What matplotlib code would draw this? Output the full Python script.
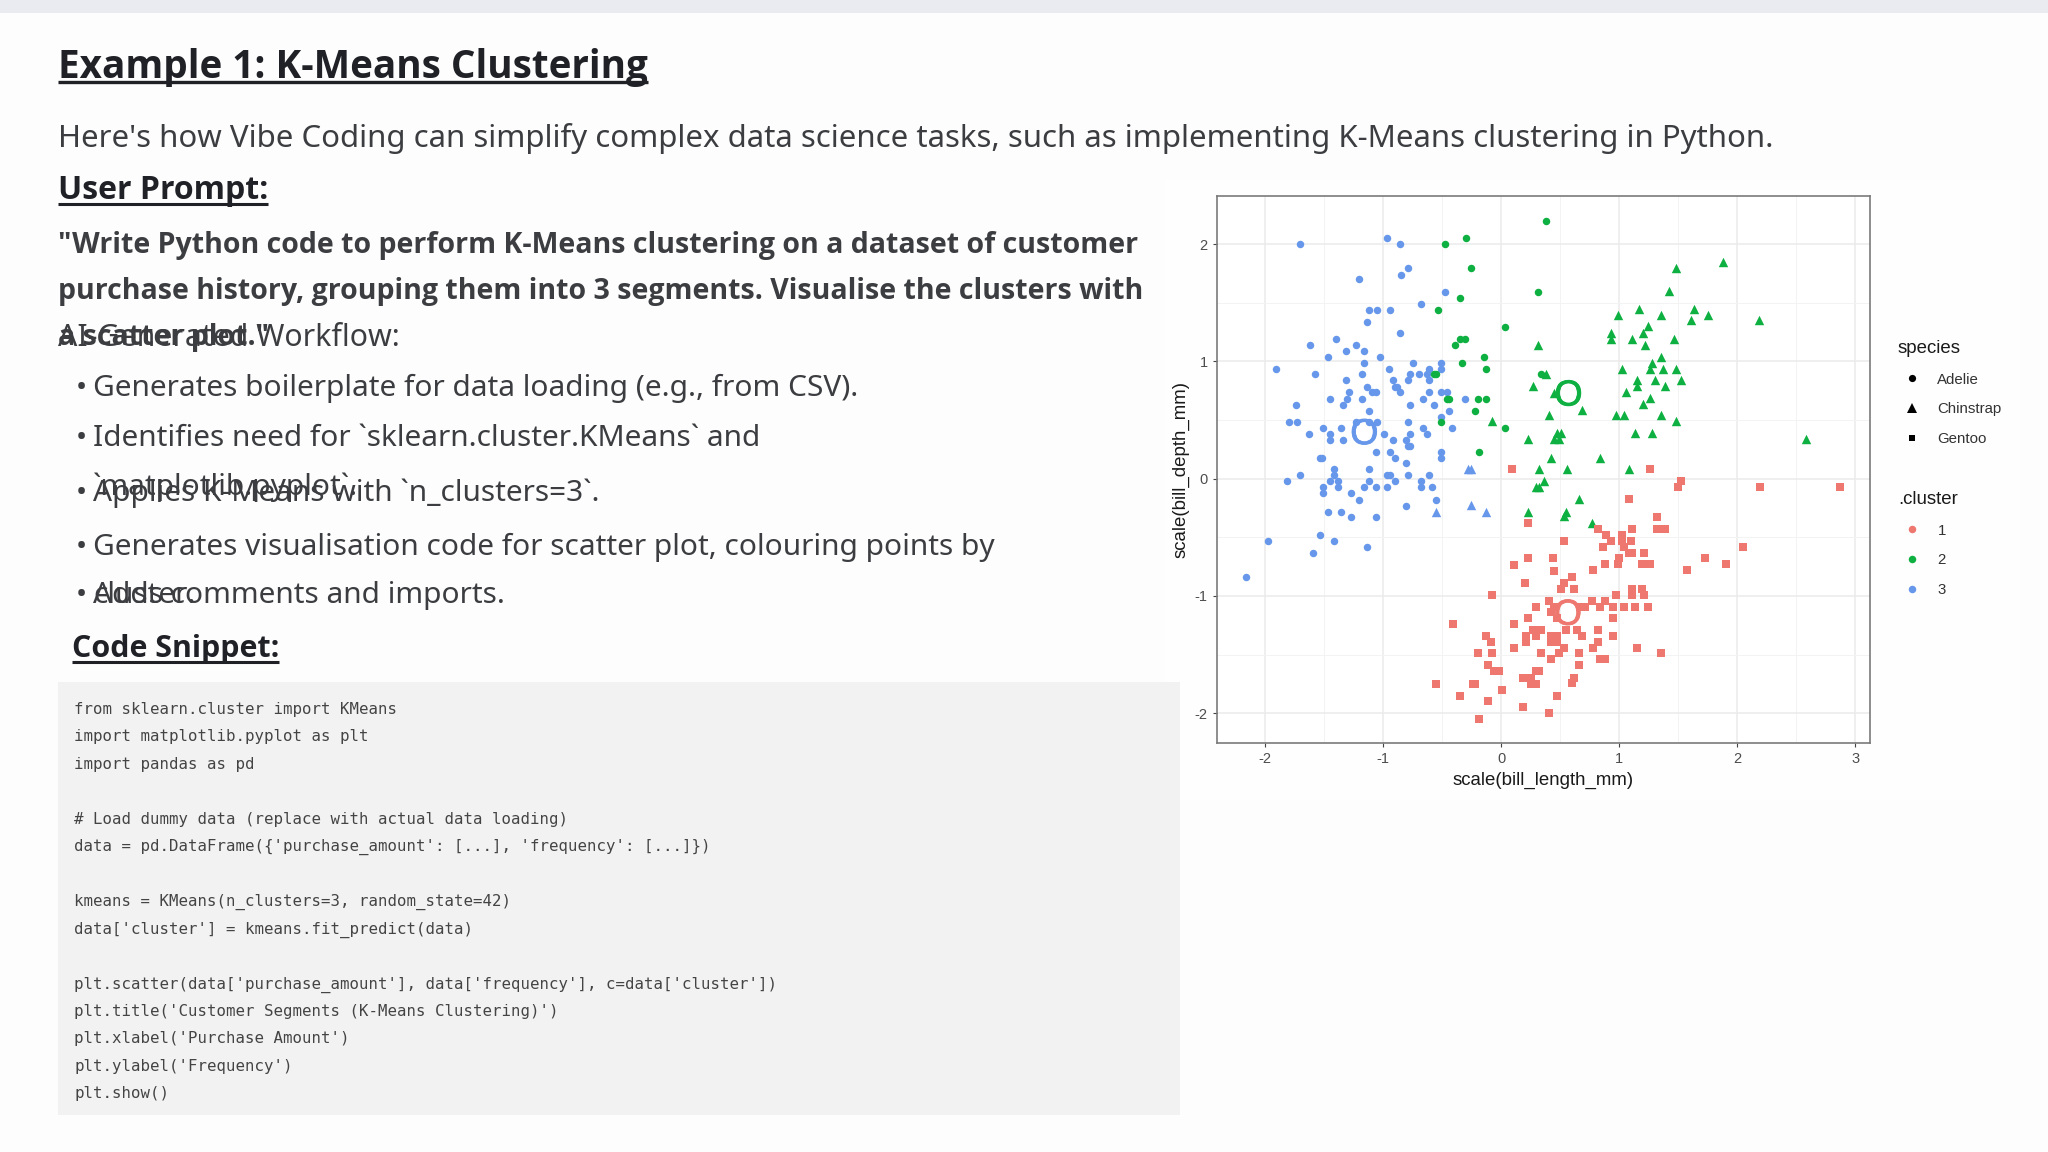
# -*- coding: utf-8 -*-

# Slide with k-means scatter: text on a page axes, scatter on its own axes
import matplotlib
matplotlib.use("Agg")
import matplotlib.pyplot as plt
import matplotlib.patheffects as pe
from matplotlib.lines import Line2D
from matplotlib.patches import Rectangle

plt.rcParams["axes.unicode_minus"] = False

# cluster 3 (blue)
blue_circle_x = [-1.71, -0.97, -0.86, -0.79, -0.85, -1.21, -0.48, -0.68, -1.12, -1.05, -0.94, -1.14, -0.86, -1.40,
                 -1.62, -1.23, -1.32, -1.16, -1.47, -1.03, -1.16, -0.75, -0.51, -1.91, -0.95, -0.61, -0.51, -1.58,
                 -1.18, -0.77, -0.70, -0.63, -1.32, -0.92, -0.79, -0.61, -1.14, -0.90, -0.88, -1.29, -1.10, -1.06,
                 -0.86, -0.61, -0.51, -0.46, -1.45, -1.31, -1.18, -0.66, -0.31, -1.74, -1.34, -0.77, -0.57, -1.12,
                 -0.44, -0.51, -1.80, -1.73, -1.23, -1.12, -1.05, -0.79, -1.51, -1.36, -0.66, -0.42, -1.63, -1.45,
                 -0.99, -0.77, -0.63, -1.45, -1.34, -0.92, -0.81, -0.79, -0.77, -1.06, -0.94, -0.51, -1.54, -1.52,
                 -0.90, -0.51, -0.81, -1.42, -1.12, -1.42, -1.71, -0.97, -0.94, -0.79, -0.61, -1.82, -1.45, -1.38,
                 -1.12, -0.90, -0.68, -1.51, -1.38, -1.16, -1.06, -0.97, -0.68, -0.59, -1.51, -1.27, -1.21, -0.55,
                 -0.81, -1.47, -1.36, -1.27, -1.06, -1.54, -1.98, -1.42, -1.14, -1.60, -2.16]
blue_circle_y = [2.00, 2.05, 2.00, 1.80, 1.74, 1.70, 1.59, 1.49, 1.44, 1.44, 1.44, 1.34, 1.24, 1.19,
                 1.14, 1.14, 1.09, 1.09, 1.04, 1.04, 0.99, 0.99, 0.99, 0.94, 0.94, 0.94, 0.94, 0.89,
                 0.89, 0.89, 0.89, 0.89, 0.84, 0.84, 0.84, 0.84, 0.78, 0.78, 0.78, 0.74, 0.74, 0.74,
                 0.74, 0.74, 0.74, 0.74, 0.68, 0.68, 0.68, 0.68, 0.68, 0.63, 0.63, 0.63, 0.63, 0.58,
                 0.58, 0.53, 0.48, 0.48, 0.48, 0.48, 0.48, 0.48, 0.43, 0.43, 0.43, 0.43, 0.38, 0.38,
                 0.38, 0.38, 0.38, 0.33, 0.33, 0.33, 0.33, 0.28, 0.28, 0.23, 0.23, 0.23, 0.18, 0.18,
                 0.18, 0.18, 0.13, 0.08, 0.08, 0.03, 0.03, 0.03, 0.03, 0.03, 0.03, -0.02, -0.02, -0.02,
                 -0.02, -0.02, -0.02, -0.07, -0.07, -0.07, -0.07, -0.07, -0.07, -0.07, -0.12, -0.12, -0.18, -0.18,
                 -0.23, -0.28, -0.28, -0.33, -0.33, -0.48, -0.53, -0.53, -0.58, -0.63, -0.84]
blue_triangle_x = [-0.28, -0.26, -0.26, -0.55, -0.13]
blue_triangle_y = [0.08, 0.08, -0.22, -0.28, -0.28]

# cluster 2 (green)
green_circle_x = [0.38, -0.48, -0.30, -0.26, 0.31, -0.35, -0.54, 0.03, -0.35, -0.31, -0.39, -0.15, -0.33, -0.13,
                  -0.57, -0.55, 0.34, -0.46, -0.44, -0.20, -0.13, -0.22, -0.51, 0.03, -0.19]
green_circle_y = [2.20, 2.00, 2.05, 1.80, 1.59, 1.54, 1.44, 1.29, 1.19, 1.19, 1.14, 1.04, 0.99, 0.94,
                  0.89, 0.89, 0.89, 0.68, 0.68, 0.68, 0.68, 0.58, 0.48, 0.43, 0.23]
green_triangle_x = [0.31, 0.38, 0.27, 0.45, 0.68, 0.40, -0.08, 0.47, 0.51, 0.23, 0.45, 0.49, 0.42, 0.32, 0.56,
                    0.36, 0.29, 0.32, 0.66, 0.23, 0.55, 0.53, 0.77, 1.88, 1.48, 1.42, 1.17, 1.63, 0.99, 1.35,
                    1.75, 1.61, 2.18, 1.24, 0.93, 1.20, 0.93, 1.11, 1.46, 1.22, 1.35, 1.28, 1.02, 1.26, 1.37,
                    1.48, 1.15, 1.30, 1.52, 1.15, 1.39, 1.06, 1.26, 1.20, 0.97, 1.04, 1.35, 1.48, 1.13, 1.28,
                    2.58, 0.84, 1.08]
green_triangle_y = [1.14, 0.89, 0.79, 0.73, 0.59, 0.54, 0.49, 0.39, 0.39, 0.34, 0.34, 0.34, 0.18, 0.08, 0.08,
                    -0.02, -0.07, -0.07, -0.17, -0.28, -0.28, -0.32, -0.38, 1.85, 1.80, 1.60, 1.45, 1.45, 1.40, 1.40,
                    1.40, 1.35, 1.35, 1.30, 1.24, 1.24, 1.19, 1.19, 1.19, 1.14, 1.04, 0.99, 0.94, 0.94, 0.94,
                    0.94, 0.84, 0.84, 0.84, 0.79, 0.79, 0.74, 0.69, 0.64, 0.54, 0.54, 0.54, 0.49, 0.39, 0.39,
                    0.34, 0.18, 0.08]

# cluster 1 (red)
red_square_x = [0.09, 1.26, 1.52, 1.50, 2.19, 2.87, 1.08, 1.32, 1.11, 1.32, 1.39, 0.82, 0.89, 1.02, 1.02, 0.93, 1.02,
                1.10, 0.53, 0.86, 1.04, 2.05, 1.08, 1.11, 1.21, 1.00, 1.73, 0.88, 0.99, 1.19, 1.26, 1.90, 0.78,
                1.57, 0.60, 0.53, 0.51, 0.62, 1.11, 1.19, 0.97, 1.11, 1.21, 0.77, 0.88, 0.71, 0.67, 0.84, 0.95,
                1.04, 1.13, 1.24, 0.95, 0.55, 0.64, 0.82, 0.68, 0.95, 0.82, 0.53, 0.78, 1.15, 1.35, 0.66, 0.84,
                0.88, 0.66, 0.62, 0.60, 0.23, 0.23, 0.44, 0.11, 0.45, 0.20, -0.08, 0.40, 0.29, 0.45, 0.42, 0.23,
                0.47, -0.41, 0.11, 0.27, 0.34, -0.13, 0.21, 0.29, 0.42, 0.47, 0.42, 0.47, 0.21, -0.09, 0.11,
                -0.20, -0.08, 0.34, 0.49, 0.42, -0.11, -0.06, -0.02, 0.29, 0.32, 0.18, 0.21, 0.25, -0.55, -0.24,
                -0.22, 0.25, 0.29, 0.01, -0.35, 0.47, -0.11, 0.18, 0.40, -0.19]
red_square_y = [0.08, 0.08, -0.02, -0.07, -0.07, -0.07, -0.17, -0.33, -0.43, -0.43, -0.43, -0.43, -0.48, -0.48, -0.51, -0.53, -0.53,
                -0.53, -0.53, -0.58, -0.58, -0.58, -0.63, -0.63, -0.63, -0.68, -0.68, -0.73, -0.73, -0.73, -0.73, -0.73, -0.78,
                -0.78, -0.84, -0.89, -0.94, -0.94, -0.94, -0.94, -0.99, -0.99, -0.99, -1.04, -1.04, -1.09, -1.09, -1.09, -1.09,
                -1.09, -1.09, -1.09, -1.19, -1.29, -1.29, -1.29, -1.34, -1.34, -1.39, -1.44, -1.44, -1.44, -1.49, -1.49, -1.54,
                -1.54, -1.59, -1.70, -1.74, -0.38, -0.68, -0.68, -0.74, -0.79, -0.89, -0.99, -1.04, -1.09, -1.09, -1.14, -1.19,
                -1.19, -1.24, -1.24, -1.29, -1.29, -1.34, -1.34, -1.34, -1.34, -1.34, -1.39, -1.39, -1.39, -1.39, -1.44,
                -1.49, -1.49, -1.49, -1.49, -1.54, -1.59, -1.64, -1.64, -1.64, -1.64, -1.70, -1.70, -1.70, -1.75, -1.75,
                -1.75, -1.75, -1.75, -1.80, -1.85, -1.85, -1.90, -1.95, -2.00, -2.05]

center_x = [0.565, 0.57, -1.16]
center_y = [-1.13, 0.74, 0.41]

cluster_labels = ["1", "2", "3"]
cluster_colors = ["#EE7770", "#0DB041", "#6797EA"]
species_labels = ["Adelie", "Chinstrap", "Gentoo"]
x_ticks = [-2, -1, 0, 1, 2, 3]
y_ticks = [-2, -1, 0, 1, 2]

title_text = "Example 1: K-Means Clustering"
intro_text = ("Here's how Vibe Coding can simplify complex data science tasks, "
              "such as implementing K-Means clustering in Python.")
prompt_lines = ['"Write Python code to perform K-Means clustering on a dataset of customer',
                "purchase history, grouping them into 3 segments. Visualise the clusters with",
                'a scatter plot."']
bullets = ["Generates boilerplate for data loading (e.g., from CSV).",
           "Identifies need for `sklearn.cluster.KMeans` and",
           "Applies K-Means with `n_clusters=3`.",
           "Generates visualisation code for scatter plot, colouring points by",
           "Adds comments and imports."]
bullet_y = [396, 446, 501, 555.5, 603]
code_lines = ["from sklearn.cluster import KMeans",
              "import matplotlib.pyplot as plt",
              "import pandas as pd",
              "",
              "# Load dummy data (replace with actual data loading)",
              "data = pd.DataFrame({'purchase_amount': [...], 'frequency': [...]})",
              "",
              "kmeans = KMeans(n_clusters=3, random_state=42)",
              "data['cluster'] = kmeans.fit_predict(data)",
              "",
              "plt.scatter(data['purchase_amount'], data['frequency'], c=data['cluster'])",
              "plt.title('Customer Segments (K-Means Clustering)')",
              "plt.xlabel('Purchase Amount')",
              "plt.ylabel('Frequency')",
              "plt.show()"]

TEXT_DARK = "#1f2127"
TEXT_BODY = "#3b3d40"
SANS = "Noto Sans"
SANS_BOLD = "Open Sans"
CHART_FONT = "Liberation Sans"
BODY_SIZE = 21.5


def underlined(page, renderer, x, y, text, size, gap=4, lw=2.2):
    t = page.text(x, y, text, fontsize=size, fontweight="bold", family=SANS_BOLD, color=TEXT_DARK, va="baseline")
    box = t.get_window_extent(renderer)
    page.plot([box.x0, box.x1], [y + gap, y + gap], color=TEXT_DARK, lw=lw, solid_capstyle="butt")


def main():
    fig = plt.figure(figsize=(20.48, 11.52), dpi=100, facecolor="#fdfdfd")
    renderer = fig.canvas.get_renderer()

    # page in pixel coordinates, y going down
    page = fig.add_axes([0, 0, 1, 1], zorder=0)
    page.set_xlim(0, 2048)
    page.set_ylim(1152, 0)
    page.axis("off")
    page.add_patch(Rectangle((0, 0), 2048, 13, color="#e9ebf1", lw=0))
    page.add_patch(Rectangle((1165, 180), 855, 620, color="#fefefe", lw=0))
    page.add_patch(Rectangle((58, 682), 1122, 433, color="#f2f2f2", lw=0))

    underlined(page, renderer, 58, 78, title_text, 27.8, gap=4, lw=2.4)
    page.text(58, 147.5, intro_text, fontsize=22.45, family=SANS, color=TEXT_BODY, va="baseline")
    underlined(page, renderer, 58, 199, "User Prompt:", 23, gap=4.5, lw=2.2)
    for i, line in enumerate(prompt_lines):
        page.text(58, 252.5 + 46.4 * i, line, fontsize=20.57, fontweight="bold", family=SANS_BOLD, color=TEXT_BODY, va="baseline")
    page.text(58, 346, "AI-Generated Workflow:", fontsize=21.8, family=SANS, color=TEXT_BODY, va="baseline")

    for line, y in zip(bullets, bullet_y):
        page.text(75.5, y, "\u2022", fontsize=BODY_SIZE, family=SANS, color=TEXT_BODY, va="baseline")
        page.text(93, y, line, fontsize=BODY_SIZE, family=SANS, color=TEXT_BODY, va="baseline")
    page.text(93, 495, "`matplotlib.pyplot`.", fontsize=BODY_SIZE, family=SANS, color=TEXT_BODY, va="baseline")
    page.text(93, 603, "cluster.", fontsize=BODY_SIZE, family=SANS, color=TEXT_BODY, va="baseline")
    underlined(page, renderer, 72, 657, "Code Snippet:", 21.9, gap=4.5, lw=2.2)

    for i, line in enumerate(code_lines):
        page.text(74.5, 714 + 27.45 * i, line, fontsize=11.35, family="DejaVu Sans Mono", color="#444444", va="baseline")

    # scatter
    ax = fig.add_axes([1216.7 / 2048, 1 - 743 / 1152, 653 / 2048, 547.3 / 1152], zorder=1)
    ax.set_facecolor("white")
    red, green, blue = cluster_colors
    ax.scatter(blue_circle_x, blue_circle_y, s=29, c=blue, marker="o", linewidths=0, zorder=3)
    ax.scatter(blue_triangle_x, blue_triangle_y, s=46, c=blue, marker="^", linewidths=0, zorder=3)
    ax.scatter(green_circle_x, green_circle_y, s=29, c=green, marker="o", linewidths=0, zorder=3)
    ax.scatter(green_triangle_x, green_triangle_y, s=46, c=green, marker="^", linewidths=0, zorder=3)
    ax.scatter(red_square_x, red_square_y, s=27, c=red, marker="s", linewidths=0, zorder=3)
    for cx, cy, color in zip(center_x, center_y, cluster_colors):
        ax.text(cx, cy, "O", fontsize=26, family=CHART_FONT, color=color, ha="center", va="center_baseline", zorder=4,
                path_effects=[pe.withStroke(linewidth=0.6, foreground=color)])

    ax.set_xlim(-2.412, 3.122)
    ax.set_ylim(-2.254, 2.414)
    ax.set_xticks(x_ticks)
    ax.set_yticks(y_ticks)
    ax.set_xticks([-1.5, -0.5, 0.5, 1.5, 2.5], minor=True)
    ax.set_yticks([-1.5, -0.5, 0.5, 1.5], minor=True)
    ax.grid(which="major", color="#ebebeb", lw=1.1, zorder=0)
    ax.grid(which="minor", color="#f3f3f3", lw=0.7, zorder=0)
    ax.set_axisbelow(True)
    ax.tick_params(which="major", length=3, width=0.8, color="#444444", labelcolor="#4d4d4d", labelsize=10.5)
    ax.tick_params(which="minor", length=0)
    for spine in ax.spines.values():
        spine.set_color("#7a7a7a")
        spine.set_linewidth(1.2)
    for label in ax.get_xticklabels() + ax.get_yticklabels():
        label.set_family(CHART_FONT)
    ax.set_xlabel("scale(bill_length_mm)", fontsize=13.4, family=CHART_FONT, color="#1a1a1a", labelpad=4)
    ax.set_ylabel("scale(bill_depth_mm)", fontsize=13.4, family=CHART_FONT, color="#1a1a1a", labelpad=3.5)

    # legends
    species_handles = [Line2D([], [], ls="", marker=m, color="black", markersize=ms, markeredgewidth=0)
                       for m, ms in zip(["o", "^", "s"], [5.2, 7, 5])]
    cluster_handles = [Line2D([], [], ls="", marker="o", color=c, markersize=5.4, markeredgewidth=0)
                       for c in cluster_colors]
    for handles, labels, title, top in [(species_handles, species_labels, "species", 340),
                                        (cluster_handles, cluster_labels, ".cluster", 491)]:
        leg = fig.legend(handles, labels, title=title, loc="upper left", bbox_to_anchor=(1898 / 2048, 1 - top / 1152),
                         frameon=False, alignment="left", borderpad=0, borderaxespad=0, handlelength=1.87,
                         handletextpad=0.76, labelspacing=1.04, prop={"family": CHART_FONT, "size": 10.8},
                         title_fontproperties={"family": CHART_FONT, "size": 13.4})
        for text in leg.get_texts():
            text.set_color("#333333")
        leg.get_title().set_color("#1a1a1a")

    fig.savefig("out.png", dpi=100, facecolor=fig.get_facecolor())
    plt.close(fig)


if __name__ == "__main__":
    main()
